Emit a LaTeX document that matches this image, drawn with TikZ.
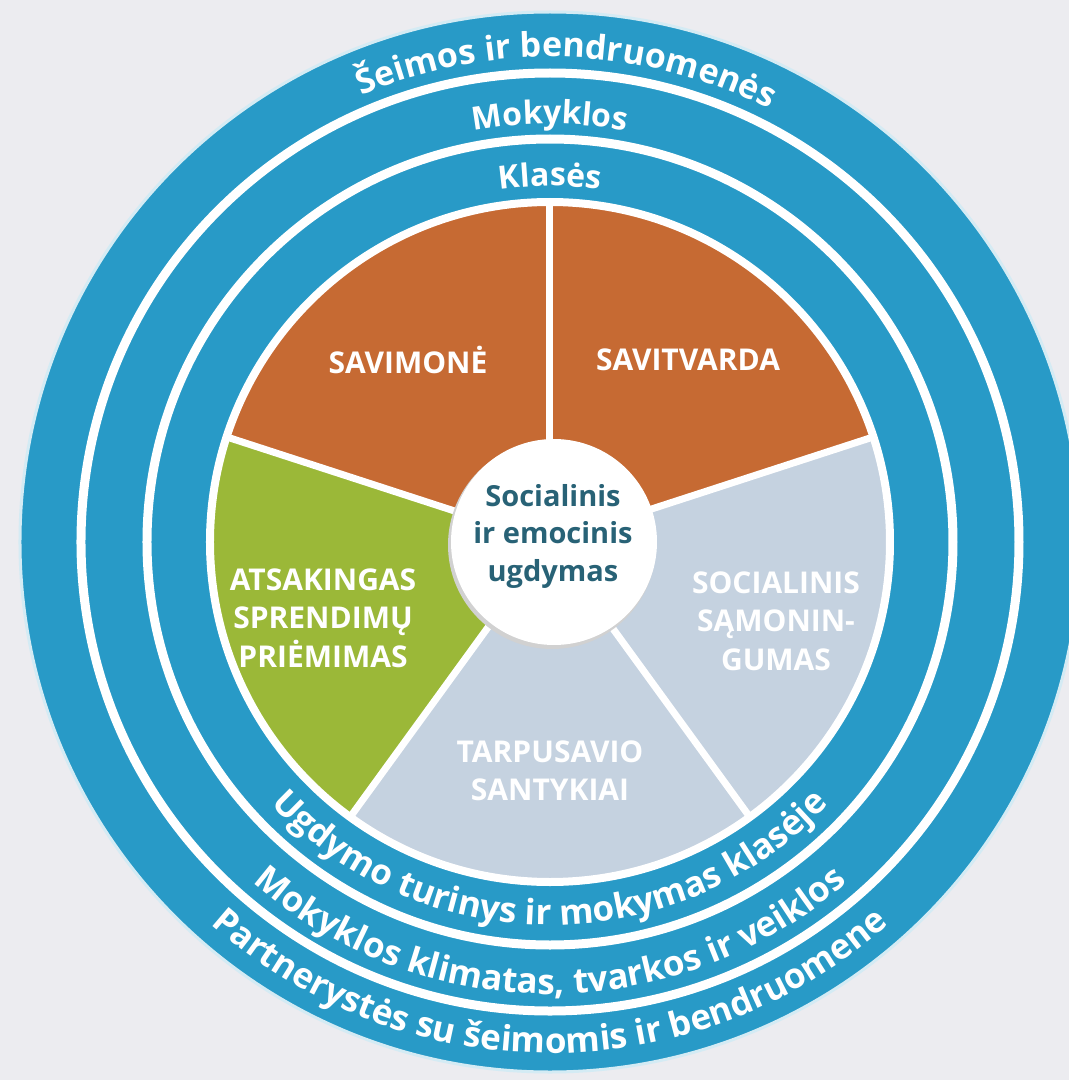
\documentclass[tikz,border=0pt]{standalone}
\usepackage{fontspec}
\setmainfont{Open Sans}
\usetikzlibrary{decorations.text}
\definecolor{ringblue}{RGB}{40,154,199}
\definecolor{selorange}{RGB}{198,106,51}
\definecolor{selgreen}{RGB}{155,184,56}
\definecolor{selgrey}{RGB}{197,210,224}
\definecolor{bgpaper}{RGB}{236,236,240}
\definecolor{centertext}{RGB}{40,98,118}
\newcommand{\ringfont}{\fontsize{32}{38}\selectfont\bfseries}
\newcommand{\ringfontbig}{\fontsize{34}{40}\selectfont\bfseries}
\newcommand{\ringfontlow}{\fontsize{35}{40}\selectfont\bfseries}
\begin{document}
\begin{tikzpicture}[x=1pt,y=1pt,
  sectorlabel/.style={text=white, font=\fontsize{30}{38.5}\selectfont\bfseries, align=center, inner sep=0pt},
  ringline/.style={white, line width=9pt},
  divider/.style={white, line width=7pt},
 ]
\clip (-550,-538) rectangle (519,542);
\fill[bgpaper] (-550,-538) rectangle (519,542);
% rings
\fill[ringblue] (0,0) circle[radius=530];
\draw[white!80!ringblue, line width=3pt] (0,0) circle[radius=530];
\draw[ringline] (0,0) circle[radius=469];
\draw[ringline] (0,0) circle[radius=403];
% sectors
\fill[selorange] (0,0) -- (90:340) arc[start angle=90,end angle=162,radius=340] -- cycle;
\fill[selorange] (0,0) -- (18:340) arc[start angle=18,end angle=90,radius=340] -- cycle;
\fill[selgreen] (0,0) -- (162:340) arc[start angle=162,end angle=234,radius=340] -- cycle;
\fill[selgrey] (0,0) -- (234:340) arc[start angle=234,end angle=306,radius=340] -- cycle;
\fill[selgrey] (0,0) -- (306:340) arc[start angle=306,end angle=378,radius=340] -- cycle;
\draw[white, line width=8pt] (0,0) circle[radius=340];
\foreach \a in {18,90,162,234,306} \draw[divider] (0,0) -- (\a:340);
% centre
\fill[black!18] (2,-3) circle[radius=104];
\fill[white] (4,0) circle[radius=103];
\node[font=\fontsize{29}{37.5}\selectfont\bfseries, text=centertext, align=center, inner sep=0pt] (core) at (3,6) {Socialinis\\ir emocinis\\ugdymas};
% sector labels
\node[sectorlabel] (savimone) at (-142,182) {SAVIMONĖ};
\node[sectorlabel] (savitvarda) at (138,182) {SAVITVARDA};
\node[sectorlabel] (atsak) at (-227,-76) {ATSAKINGAS\\SPRENDIMŲ\\PRIĖMIMAS};
\node[sectorlabel] (socsam) at (226,-79) {SOCIALINIS\\SĄMONIN-\\GUMAS};
\node[sectorlabel] (tarp) at (0,-229) {TARPUSAVIO\\SANTYKIAI};
% ring texts (top)
\path[decorate, decoration={text along path, text align=center, text color=white,
  text={|\ringfontbig|Šeimos ir bendruomenės}}]
  (148:485) arc[start angle=148,end angle=28,radius=485];
\path[decorate, decoration={text along path, text align=center, text color=white,
  text={|\ringfont|Mokyklos}}]
  (150:418) arc[start angle=150,end angle=30,radius=418];
\path[decorate, decoration={text along path, text align=center, text color=white,
  text={|\ringfont|Klasės}}]
  (150:356) arc[start angle=150,end angle=30,radius=356];
% ring texts (bottom)
\path[decorate, decoration={text along path, text align=center, text color=white,
  text={|\ringfontlow|Ugdymo turinys ir mokymas klasėje}}]
  (190:383) arc[start angle=190,end angle=350,radius=383];
\path[decorate, decoration={text along path, text align=center, text color=white,
  text={|\ringfontlow|Mokyklos klimatas, tvarkos ir veiklos}}]
  (190:452) arc[start angle=190,end angle=350,radius=452];
\path[decorate, decoration={text along path, text align=center, text color=white,
  text={|\ringfontlow|Partnerystės su šeimomis ir bendruomene}}]
  (190:511) arc[start angle=190,end angle=350,radius=511];
\end{tikzpicture}
\end{document}
